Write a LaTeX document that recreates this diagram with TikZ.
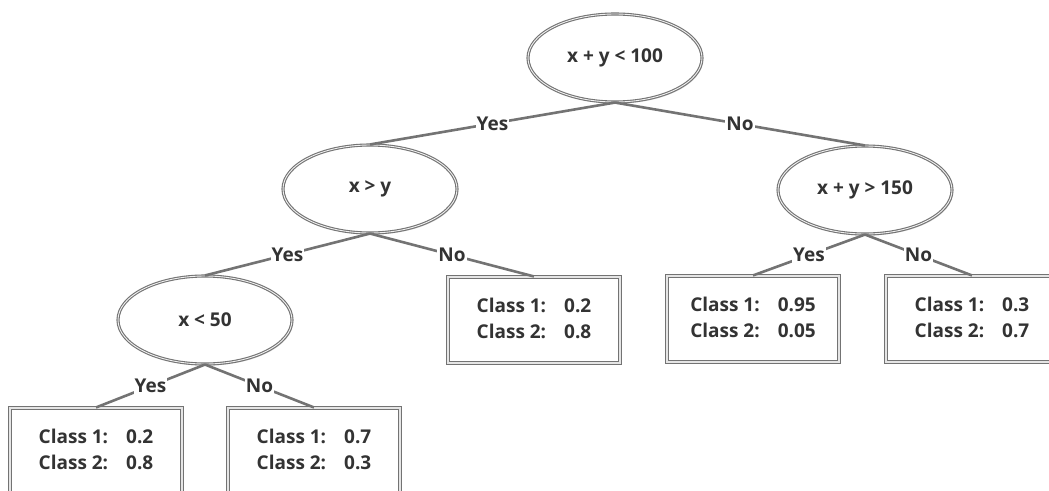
\documentclass[tikz,border=0pt]{standalone}
\usepackage{fontspec}
\setmainfont{Open Sans}
\usetikzlibrary{shapes.geometric,shadows}

\begin{document}
\begin{tikzpicture}[x=1pt, y=-1pt,
  font=\bfseries\fontsize{19}{26}\selectfont,
  test/.style={ellipse, draw=black!55, line width=1.1pt, double=black!6, double distance=0.9pt,
    fill=white, minimum width=174pt, minimum height=88pt, text=black!80,
    drop shadow={opacity=0.3, shadow xshift=1.2pt, shadow yshift=-1.6pt}},
  leaf/.style={rectangle, draw=black!55, line width=1.1pt, double=black!10, double distance=1.6pt,
    fill=white, minimum width=172pt, minimum height=86pt, inner sep=0pt, text=black!80,
    drop shadow={opacity=0.3, shadow xshift=1.2pt, shadow yshift=-1.6pt}},
  branch/.style={draw=black!55, line width=2.6pt},
  answer/.style={midway, fill=white, inner sep=1.2pt, text=black!80}]
  \newcommand{\Probs}[2]{%
    \begin{tabular}{@{}l@{\hspace{18pt}}l@{}}Class 1: & #1\\ Class 2: & #2\end{tabular}%
  }
  \fill[white] (0,0) rectangle (1049,490);
  \useasboundingbox (0,0) rectangle (1049,490);

  \node[test] (root) at (615,58) {x + y < 100};
  \node[test] (xy) at (370,189) {x > y};
  \node[test] (sum) at (865,190) {x + y > 150};
  \node[test] (x50) at (205,320) {x < 50};

  \node[leaf] (mid) at (534,320) {\Probs{0.2}{0.8}};
  \node[leaf] (hi) at (753,319) {\Probs{0.95}{0.05}};
  \node[leaf] (lo) at (972,319) {\Probs{0.3}{0.7}};
  \node[leaf] (small) at (96,451) {\Probs{0.2}{0.8}};
  \node[leaf] (big) at (314,451) {\Probs{0.7}{0.3}};

  \draw[branch] (root.south) -- node[answer] {Yes} (xy.north);
  \draw[branch] (root.south) -- node[answer] {No} (sum.north);
  \draw[branch] (xy.south) -- node[answer] {Yes} (x50.north);
  \draw[branch] (xy.south) -- node[answer] {No} (mid.north);
  \draw[branch] (sum.south) -- node[answer] {Yes} (hi.north);
  \draw[branch] (sum.south) -- node[answer] {No} (lo.north);
  \draw[branch] (x50.south) -- node[answer] {Yes} (small.north);
  \draw[branch] (x50.south) -- node[answer] {No} (big.north);

\end{tikzpicture}
\end{document}
